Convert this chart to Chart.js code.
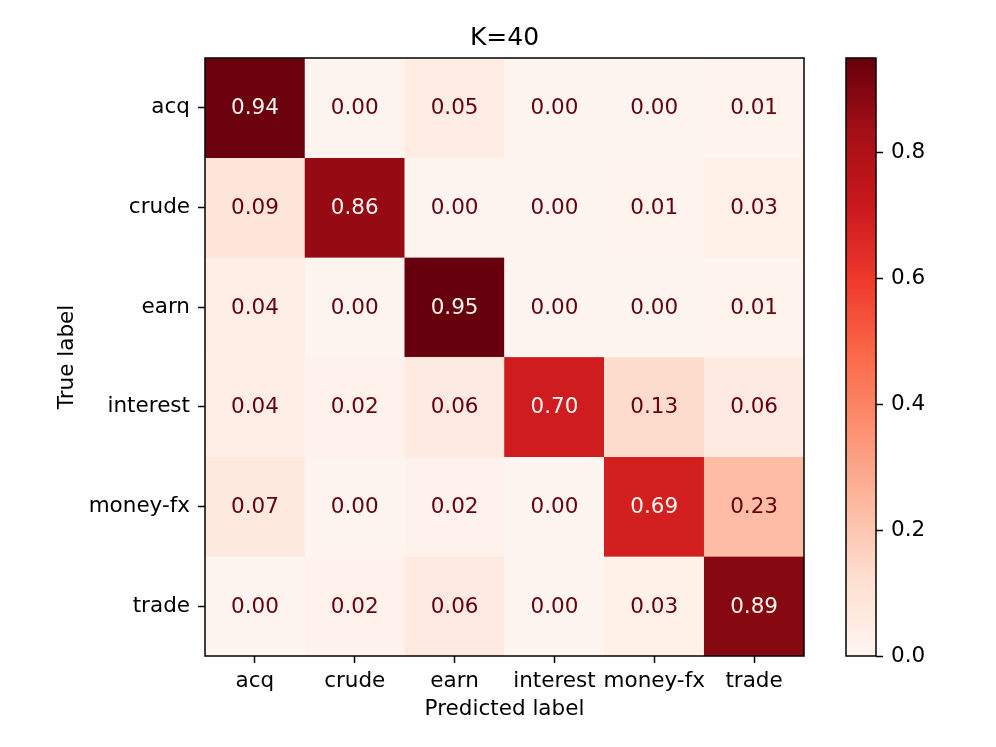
<!DOCTYPE html>
<html>
<head>
<meta charset="utf-8">
<title>K=40</title>
<script src="https://cdn.jsdelivr.net/npm/chart.js@4.4.1/dist/chart.umd.min.js"></script>
<style>
  body { margin: 0; background: #fff; }
  #wrap { position: relative; width: 996px; height: 747px; }
  #wrap canvas { position: absolute; top: 0; }
  #matrix { left: 0; }
  #cbar { left: 800px; }
</style>
</head>
<body>
<div id="wrap">
  <canvas id="matrix" width="996" height="747"></canvas>
  <canvas id="cbar" width="196" height="747"></canvas>
</div>
<script>
// data
const chartTitle = 'K=40';
const predictedLabels = ['acq', 'crude', 'earn', 'interest', 'money-fx', 'trade'];
const trueLabels = ['acq', 'crude', 'earn', 'interest', 'money-fx', 'trade'];
const rowAcq = [0.94, 0.00, 0.05, 0.00, 0.00, 0.01];
const rowCrude = [0.09, 0.86, 0.00, 0.00, 0.01, 0.03];
const rowEarn = [0.04, 0.00, 0.95, 0.00, 0.00, 0.01];
const rowInterest = [0.04, 0.02, 0.06, 0.70, 0.13, 0.06];
const rowMoneyFx = [0.07, 0.00, 0.02, 0.00, 0.69, 0.23];
const rowTrade = [0.00, 0.02, 0.06, 0.00, 0.03, 0.89];
const rows = [rowAcq, rowCrude, rowEarn, rowInterest, rowMoneyFx, rowTrade];
const cbarTicks = [0, 0.2, 0.4, 0.6, 0.8];

// matplotlib "Reds"
const redsStops = ['#fff5f0', '#fee0d2', '#fcbba1', '#fc9272', '#fb6a4a', '#ef3b2c', '#cb181d', '#a50f15', '#67000d'];

const FONT = '"DejaVu Sans", sans-serif';
const allValues = rows.flat();
const vmin = Math.min(...allValues);
const vmax = Math.max(...allValues);
const threshold = (vmin + vmax) / 2;

function hexToRgb(h) {
    return [parseInt(h.slice(1, 3), 16), parseInt(h.slice(3, 5), 16), parseInt(h.slice(5, 7), 16)];
}

function reds(t) {
    t = Math.min(1, Math.max(0, t));
    let pos = t * (redsStops.length - 1);
    let i = Math.min(Math.floor(pos), redsStops.length - 2);
    let f = pos - i;
    let a = hexToRgb(redsStops[i]);
    let b = hexToRgb(redsStops[i + 1]);
    let c = a.map((v, k) => Math.round(v + (b[k] - v) * f));
    return `rgb(${c[0]}, ${c[1]}, ${c[2]})`;
}

const frame = {
    id: 'frame',
    afterDraw(chart) {
        let { ctx, chartArea: a } = chart;
        ctx.save();
        ctx.strokeStyle = '#000';
        ctx.lineWidth = 1.5;
        ctx.strokeRect(a.left, a.top, a.right - a.left, a.bottom - a.top);
        ctx.restore();
    }
};

const cellText = {
    id: 'cellText',
    afterDatasetsDraw(chart) {
        let ctx = chart.ctx;
        ctx.save();
        ctx.font = '21.5px ' + FONT;
        ctx.textAlign = 'center';
        ctx.textBaseline = 'middle';
        chart.data.datasets.forEach((ds, i) => {
            chart.getDatasetMeta(i).data.forEach((bar, j) => {
                let v = ds.values[j];
                let p = bar.getCenterPoint();
                ctx.fillStyle = v > threshold ? redsStops[0] : redsStops[redsStops.length - 1];
                ctx.fillText(v.toFixed(2), p.x, p.y + 1);
            });
        });
        ctx.restore();
    }
};

const titleText = {
    id: 'titleText',
    afterDraw(chart) {
        let { ctx, chartArea: a } = chart;
        ctx.save();
        ctx.font = '25px ' + FONT;
        ctx.fillStyle = '#000';
        ctx.textAlign = 'center';
        ctx.textBaseline = 'alphabetic';
        ctx.fillText(chartTitle, (a.left + a.right) / 2, 45);
        ctx.restore();
    }
};

let datasets = rows.map((row, i) => ({
    label: trueLabels[i],
    data: row.map(() => [i, i + 1]),
    values: row,
    backgroundColor: row.map(v => reds((v - vmin) / (vmax - vmin))),
    borderColor: row.map(v => reds((v - vmin) / (vmax - vmin))),
    borderWidth: 0.5,
    borderSkipped: false,
    barPercentage: 1,
    categoryPercentage: 1,
    grouped: false
}));

let tickFont = { family: FONT, size: 21.5 };
let axisGrid = { display: true, drawOnChartArea: false, drawTicks: true, tickLength: 7, tickColor: '#000', tickWidth: 1.5, offset: false };

new Chart(document.getElementById('matrix'), {
    type: 'bar',
    data: { labels: predictedLabels, datasets: datasets },
    options: {
        responsive: false,
        animation: false,
        devicePixelRatio: 1,
        layout: { padding: { top: 58, right: 192, bottom: 0, left: 0 } },
        plugins: { legend: { display: false }, tooltip: { enabled: false }, title: { display: false } },
        scales: {
            x: {
                type: 'category',
                grid: axisGrid,
                border: { display: false },
                ticks: { font: tickFont, color: '#000', padding: 6, maxRotation: 0, autoSkip: false },
                title: { display: true, text: 'Predicted label', font: tickFont, color: '#000', padding: { top: 0, bottom: 25 } },
                afterFit(scale) { scale.height = 91; }
            },
            y: {
                type: 'linear',
                min: 0,
                max: trueLabels.length,
                reverse: true,
                grid: axisGrid,
                border: { display: false },
                afterBuildTicks(scale) {
                    scale.ticks = trueLabels.map((_, i) => ({ value: i + 0.5 }));
                },
                ticks: {
                    font: tickFont, color: '#000', padding: 8,
                    callback: (value, index) => trueLabels[index]
                },
                title: { display: true, text: 'True label', font: tickFont, color: '#000', padding: { top: 55, bottom: 0 } },
                afterFit(scale) { scale.width = 205; }
            }
        }
    },
    plugins: [cellText, frame, titleText]
});

// colorbar
new Chart(document.getElementById('cbar'), {
    type: 'bar',
    data: {
        labels: [''],
        datasets: [{
            data: [[vmin, vmax]],
            backgroundColor(context) {
                let a = context.chart.chartArea;
                if (!a) return redsStops[0];
                let g = context.chart.ctx.createLinearGradient(0, a.bottom, 0, a.top);
                redsStops.forEach((c, i) => g.addColorStop(i / (redsStops.length - 1), c));
                return g;
            },
            borderWidth: 0,
            barPercentage: 1,
            categoryPercentage: 1
        }]
    },
    options: {
        responsive: false,
        animation: false,
        devicePixelRatio: 1,
        layout: { padding: { top: 58, right: 0, bottom: 91, left: 46 } },
        plugins: { legend: { display: false }, tooltip: { enabled: false } },
        scales: {
            x: { display: false },
            y: {
                type: 'linear',
                position: 'right',
                min: vmin,
                max: vmax,
                grid: { display: true, drawOnChartArea: false, drawTicks: true, tickLength: 7, tickColor: '#000', tickWidth: 1.5 },
                border: { display: false },
                afterBuildTicks(scale) {
                    scale.ticks = cbarTicks.map(v => ({ value: v }));
                },
                ticks: { font: tickFont, color: '#000', padding: 8, callback: v => v.toFixed(1) },
                afterFit(scale) { scale.width = 120; }
            }
        }
    },
    plugins: [frame]
});
</script>
</body>
</html>
